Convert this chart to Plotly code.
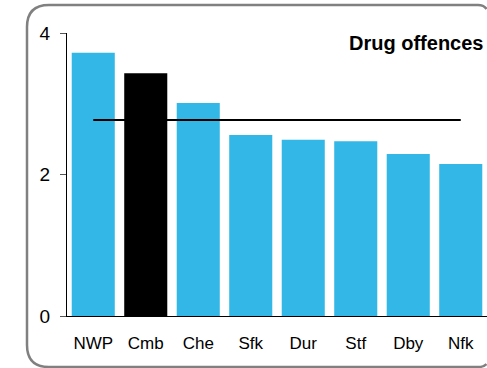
import plotly.graph_objects as go

categories = ["NWP", "Cmb", "Che", "Sfk", "Dur", "Stf", "Dby", "Nfk"]
values = [3.72, 3.43, 3.01, 2.56, 2.49, 2.47, 2.29, 2.15]
average = 2.77
highlight = "Cmb"
title_text = "Drug offences"

colors = ["#000000" if c == highlight else "#32B7E7" for c in categories]

fig = go.Figure()
fig.add_trace(go.Bar(x=categories, y=values, marker=dict(color=colors, line=dict(width=0)),
                     width=0.82, showlegend=False, hoverinfo="skip"))
fig.add_trace(go.Scatter(x=[categories[0], categories[-1]], y=[average, average], mode="lines",
                         line=dict(color="#000000", width=2), showlegend=False, hoverinfo="skip"))

L, R, T, B = 67, 0, 33, 52
W, H = 487, 368
pw, ph = W - L - R, H - T - B

def px(x):
    return (x - L) / pw

def py(y):
    return (H - B - y) / ph

x0, y0, y1, r = 27, 5, 367, 22
path = (f"M {px(486.5)},{py(9)} Q {px(484)},{py(y0)} {px(478)},{py(y0)} "
        f"L {px(x0+r)},{py(y0)} Q {px(x0)},{py(y0)} {px(x0)},{py(y0+r)} "
        f"L {px(x0)},{py(y1-r)} Q {px(x0)},{py(y1)} {px(x0+r)},{py(y1)} "
        f"L {px(478)},{py(y1)} Q {px(484)},{py(y1)} {px(486.5)},{py(364)}")
fig.add_shape(type="path", path=path, xref="paper", yref="paper",
              line=dict(color="#808080", width=2.5), layer="below")

fig.add_annotation(text=f"<b>{title_text}</b>", xref="paper", yref="paper",
                   x=px(485), y=py(43), xanchor="right", yanchor="middle", showarrow=False,
                   font=dict(size=20, color="#000000", family="Liberation Sans, Arial, sans-serif"))

fig.update_layout(
    width=W, height=H, margin=dict(l=L, r=R, t=T, b=B),
    paper_bgcolor="white", plot_bgcolor="white",
    font=dict(family="Liberation Sans, Arial, sans-serif", size=17, color="#000000"),
    bargap=0.18,
    xaxis=dict(range=[-0.5, 7.5], showgrid=False, zeroline=False, showline=True,
               linecolor="#000000", linewidth=1, ticks="outside", ticklen=12,
               tickcolor="rgba(0,0,0,0)", tickfont=dict(size=17)),
    yaxis=dict(range=[0, 4], tickvals=[0, 2, 4], showgrid=False, zeroline=False,
               showline=True, linecolor="#000000", linewidth=1, ticks="outside",
               ticklen=6, tickcolor="#555555", tickfont=dict(size=19),
               ticklabelstandoff=6),
)

fig.write_html("out.html", config={"displayModeBar": False},
               post_script="document.body.style.margin='0';document.body.style.overflow='hidden';")
